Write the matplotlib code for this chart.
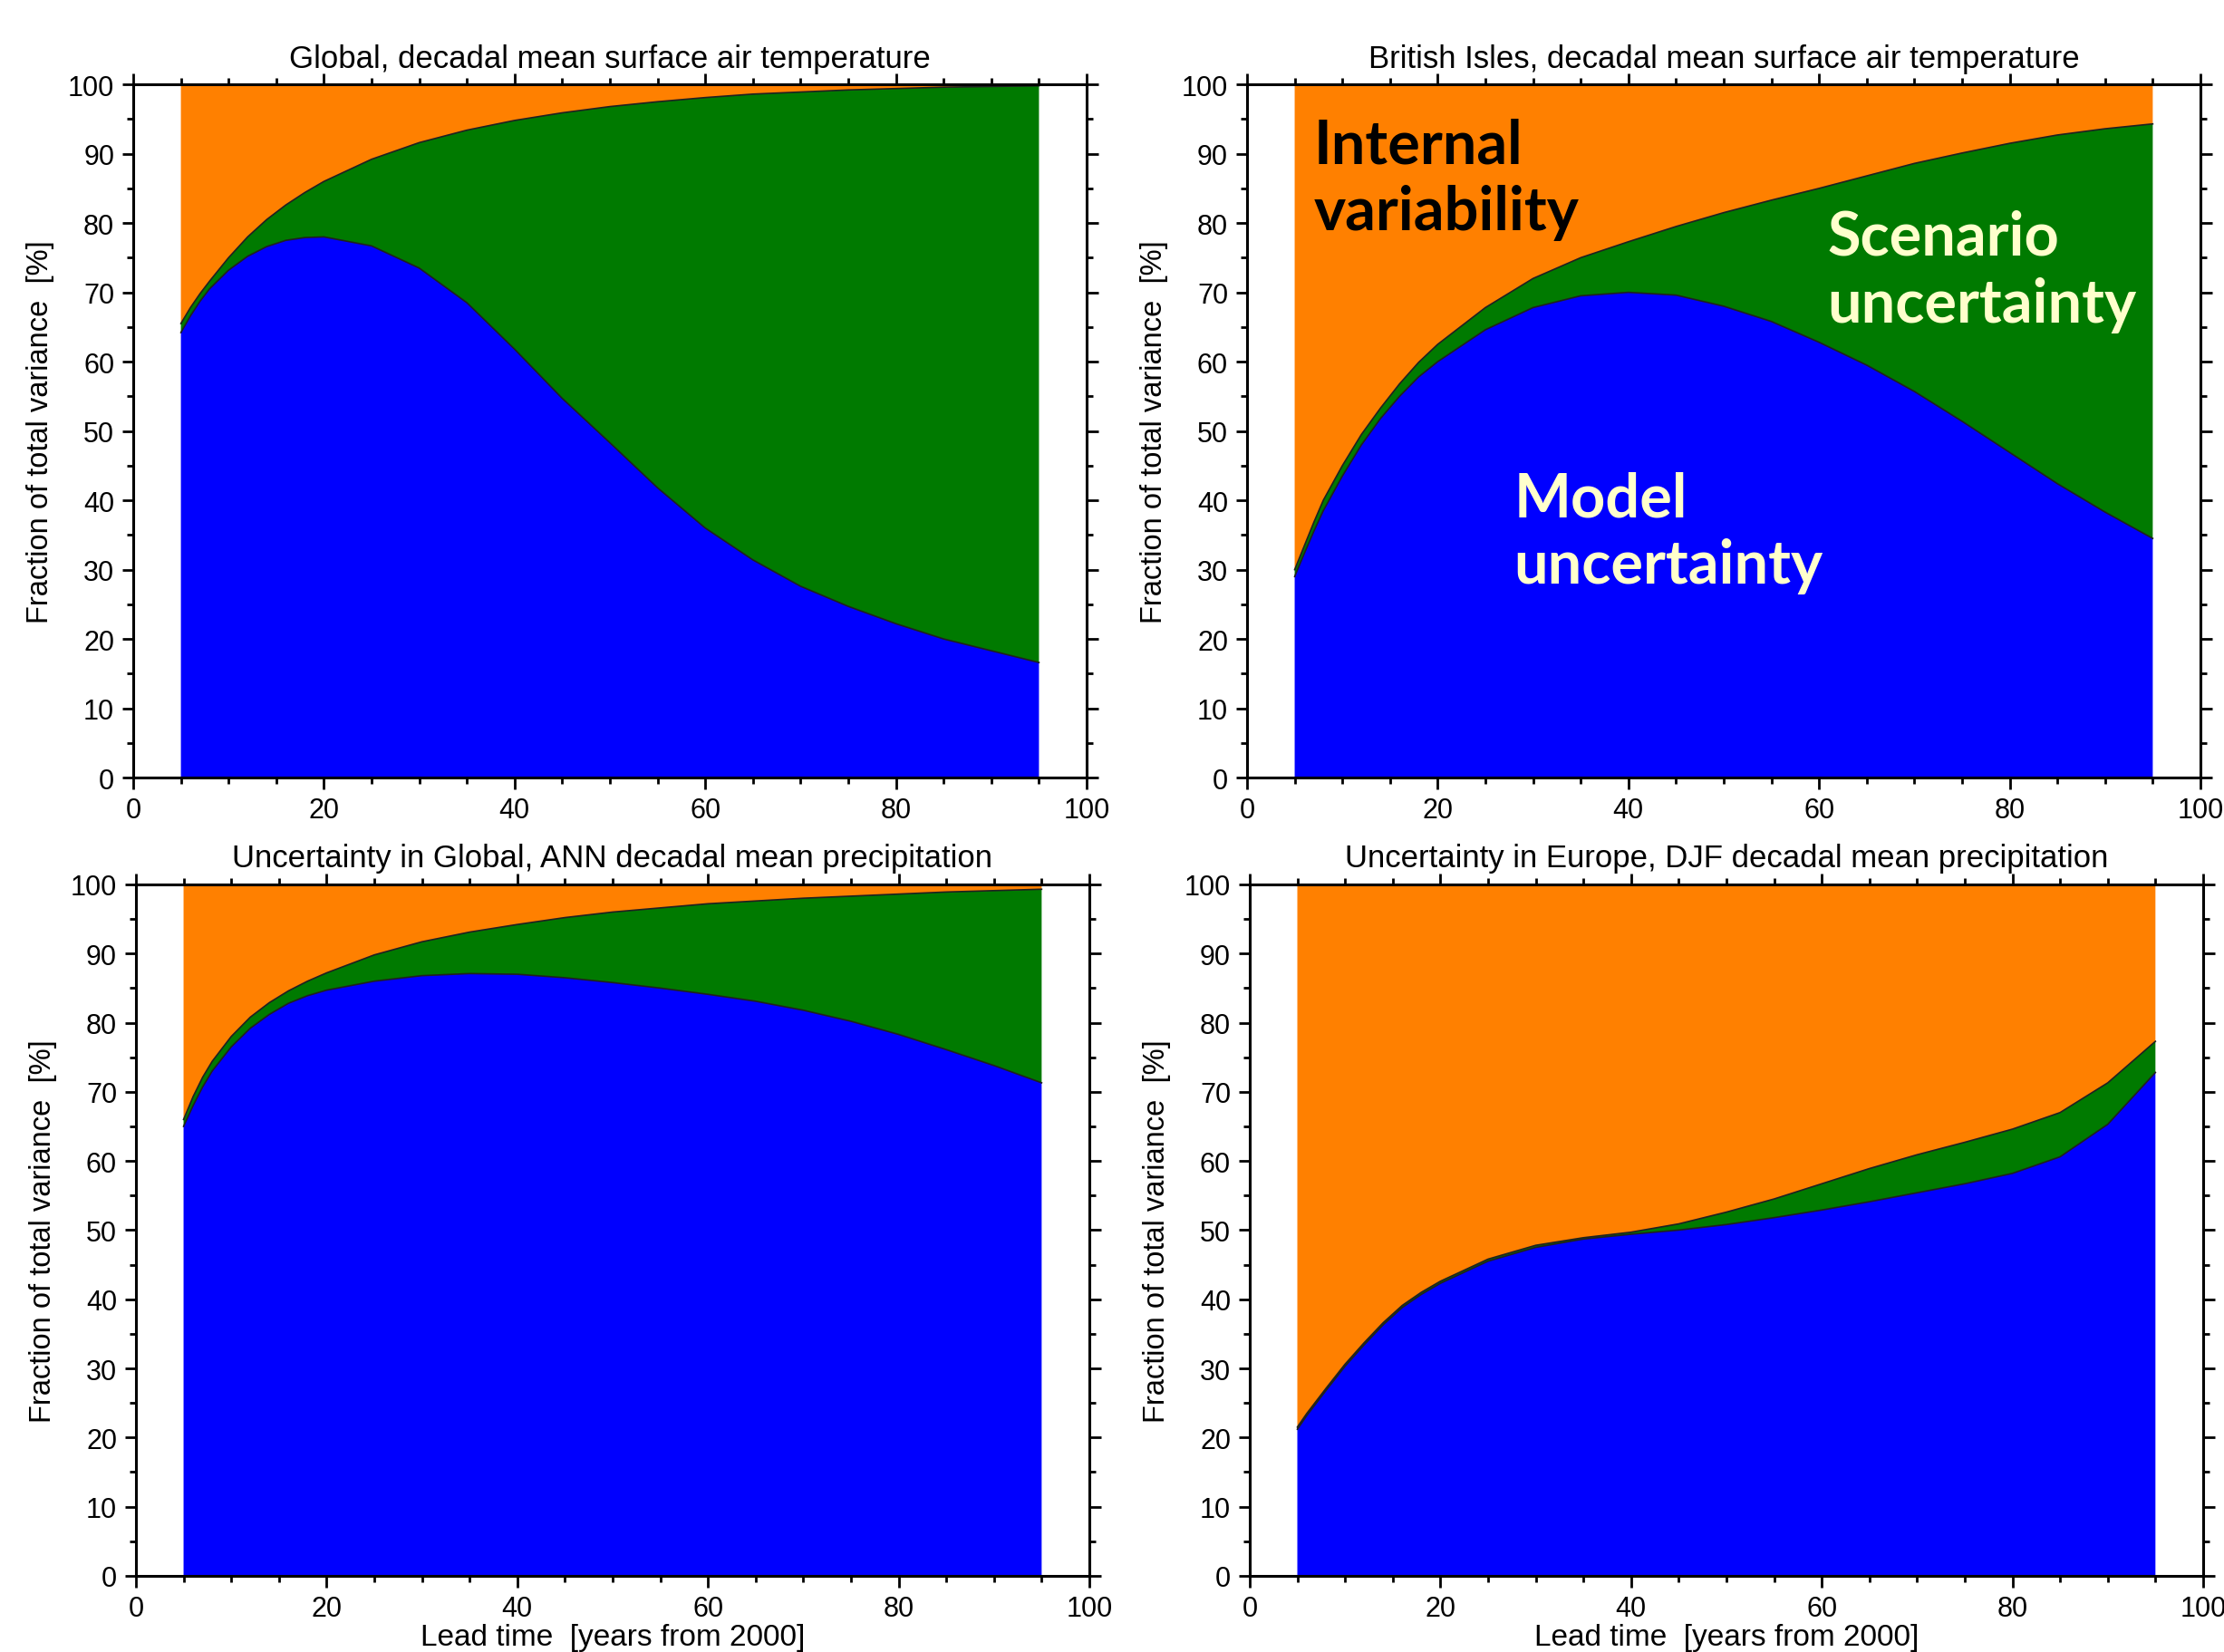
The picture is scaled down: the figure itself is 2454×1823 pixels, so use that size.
import matplotlib
matplotlib.use("Agg")
import matplotlib.pyplot as plt
from matplotlib.ticker import MultipleLocator

plt.rcParams['font.family'] = ['Liberation Sans', 'DejaVu Sans']

# lead time (years from 2000)
lead = [5, 6, 7, 8, 10, 12, 14, 16, 18, 20, 25, 30, 35, 40, 45, 50, 55, 60, 65, 70, 75, 80, 85, 90, 95]

# cumulative fractions [%]: top of model band, top of model+scenario band
glob_t_model = [64.2, 66.6, 68.7, 70.5, 73.2, 75.2, 76.6, 77.5, 77.9, 78, 76.7, 73.5, 68.5, 61.8, 54.7,
                48.3, 41.8, 36, 31.4, 27.6, 24.7, 22.2, 20.0, 18.3, 16.6]
glob_t_scen = [65.5, 67.8, 69.8, 71.6, 75, 78, 80.5, 82.6, 84.4, 86, 89.2, 91.6, 93.4, 94.8, 95.9,
               96.8, 97.5, 98.1, 98.6, 98.9, 99.2, 99.4, 99.6, 99.7, 99.8]

bi_t_model = [29, 32.3, 35.5, 38.5, 43.5, 48, 51.8, 55, 57.8, 60, 64.6, 67.8, 69.5, 70, 69.6,
              68, 65.8, 62.8, 59.5, 55.7, 51.4, 46.9, 42.4, 38.3, 34.5]
bi_t_scen = [30, 33.4, 36.8, 40, 45, 49.5, 53.3, 56.8, 59.9, 62.5, 67.8, 72, 75, 77.3, 79.5,
             81.5, 83.3, 85, 86.8, 88.6, 90.1, 91.5, 92.7, 93.6, 94.3]

glob_p_model = [65, 68, 70.7, 73, 76.5, 79.2, 81.2, 82.8, 83.9, 84.7, 86, 86.8, 87.1, 87, 86.5,
                85.8, 85, 84.1, 83.1, 81.8, 80.2, 78.3, 76.1, 73.8, 71.3]
glob_p_scen = [66, 69.3, 72.1, 74.4, 78, 80.8, 82.9, 84.6, 86, 87.2, 89.8, 91.7, 93.1, 94.2, 95.2,
               96, 96.6, 97.2, 97.6, 98, 98.3, 98.6, 98.9, 99.1, 99.3]

eu_p_model = [21.2, 23.2, 25, 26.8, 30.3, 33.4, 36.3, 38.8, 40.7, 42.3, 45.5, 47.5, 48.7, 49.4, 50,
              50.8, 51.8, 52.9, 54.1, 55.4, 56.7, 58.2, 60.6, 65.3, 72.8]
eu_p_scen = [21.5, 23.5, 25.3, 27.1, 30.6, 33.7, 36.6, 39.1, 41, 42.6, 45.8, 47.8, 48.9, 49.7, 50.9,
             52.6, 54.5, 56.7, 58.9, 60.9, 62.7, 64.6, 67, 71.3, 77.3]

titles = ["Global, decadal mean surface air temperature",
          "British Isles, decadal mean surface air temperature",
          "Uncertainty in Global, ANN decadal mean precipitation",
          "Uncertainty in Europe, DJF decadal mean precipitation"]

BLUE = "#0000ff"
GREEN = "#007a00"
ORANGE = "#ff8000"
CREAM = "#ffffcc"

fig = plt.figure(figsize=(24.54, 18.24), dpi=100)

# [left, bottom, width, height] in figure fraction
boxes = [[0.0599, 0.529, 0.4287, 0.4194],
         [0.5607, 0.529, 0.4287, 0.4194],
         [0.0611, 0.0461, 0.4287, 0.4183],
         [0.5619, 0.0461, 0.4287, 0.4183]]

panels = [(glob_t_model, glob_t_scen), (bi_t_model, bi_t_scen),
          (glob_p_model, glob_p_scen), (eu_p_model, eu_p_scen)]

axes = []
for i, (model, scen) in enumerate(panels):
  ax = fig.add_axes(boxes[i])
  ax.fill_between(lead, 0, model, facecolor=BLUE, linewidth=0)
  ax.fill_between(lead, model, scen, facecolor=GREEN, linewidth=0)
  ax.fill_between(lead, scen, 100, facecolor=ORANGE, linewidth=0)
  ax.plot(lead, model, color="#202020", lw=1.2)
  ax.plot(lead, scen, color="#202020", lw=1.2)
  ax.set_xlim(0, 100)
  ax.set_ylim(0, 100)
  ax.xaxis.set_major_locator(MultipleLocator(20))
  ax.xaxis.set_minor_locator(MultipleLocator(5))
  ax.yaxis.set_major_locator(MultipleLocator(10))
  ax.yaxis.set_minor_locator(MultipleLocator(5))
  ax.tick_params(which="both", direction="out", top=True, right=True,
                 width=2, labelsize=22, pad=6)
  ax.tick_params(which="major", length=9)
  ax.tick_params(which="minor", length=5)
  for s in ax.spines.values():
    s.set_linewidth(2.2)
  ax.set_title(titles[i], fontsize=25, pad=14)
  ax.set_ylabel("Fraction of total variance  [%]", fontsize=23.5, labelpad=11)
  if i >= 2:
    ax.set_xlabel("Lead time  [years from 2000]", fontsize=24, labelpad=1)
  axes.append(ax)

# labels on the British Isles panel
lab = dict(fontsize=48, fontweight="bold", family=["Lato", "DejaVu Sans"],
           linespacing=1.24, va="top")
axes[1].text(7.0, 95.3, "Internal\nvariability", color="black", **lab)
axes[1].text(60.9, 82.0, "Scenario\nuncertainty", color=CREAM, **lab)
axes[1].text(28.0, 44.3, "Model\nuncertainty", color=CREAM, **lab)

plt.savefig("out.png", dpi=100)
